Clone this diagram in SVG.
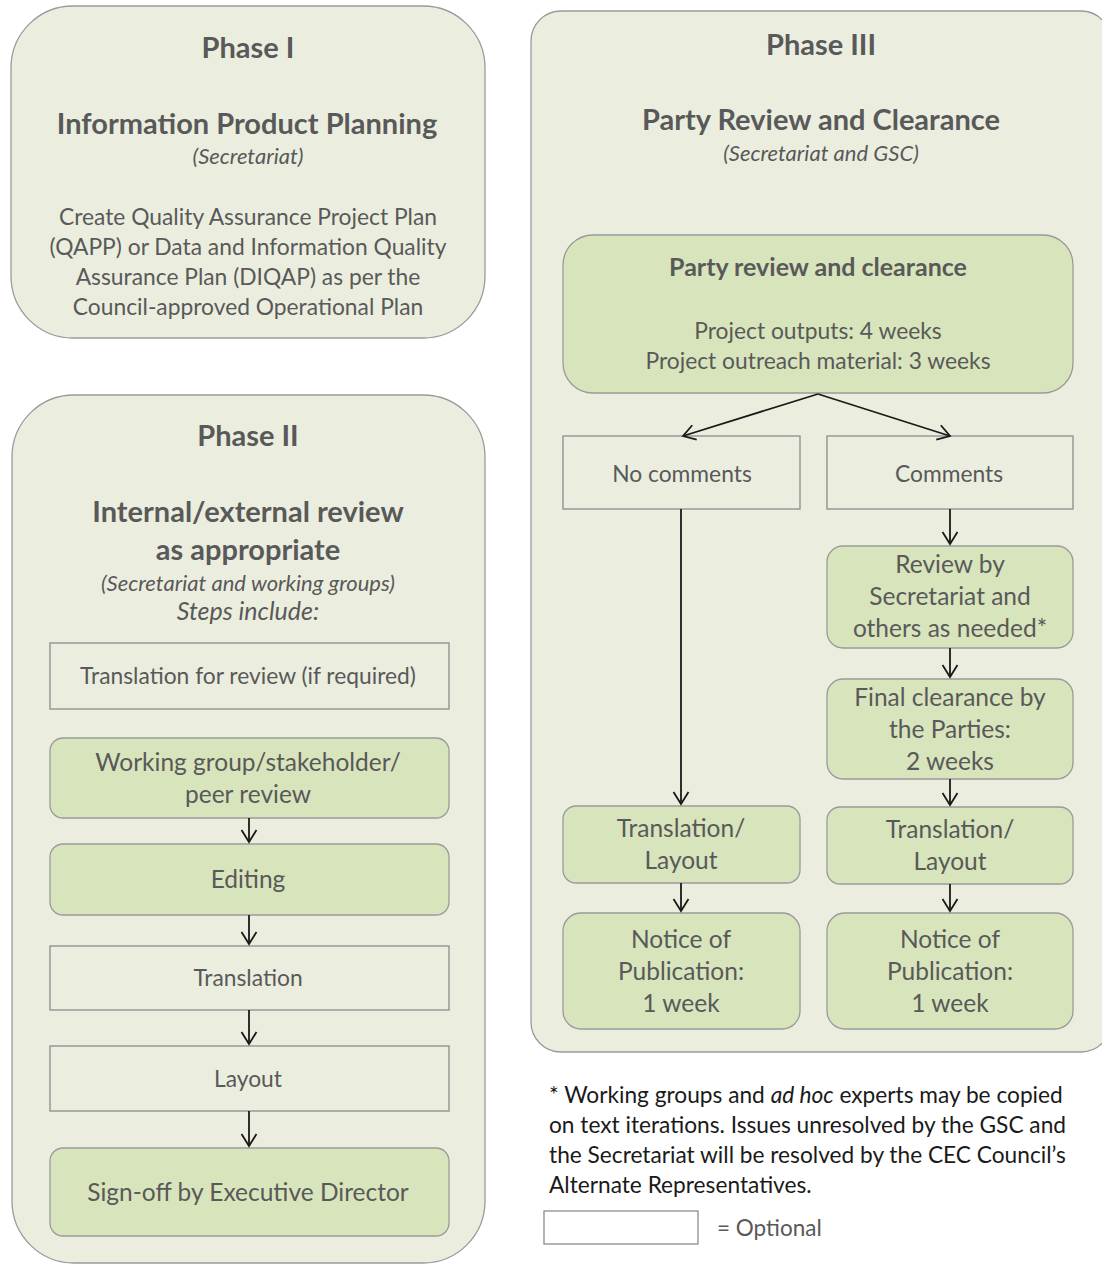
<svg xmlns="http://www.w3.org/2000/svg" width="1102" height="1264" viewBox="0 0 1102 1264">
<defs>
<marker id="ah" markerWidth="16" markerHeight="18" viewBox="0 0 16 18" refX="13" refY="9" orient="auto" markerUnits="userSpaceOnUse">
<path d="M1,1.5 L13,9 L1,16.5" fill="none" stroke="#1a1a1a" stroke-width="1.8"/>
</marker>
<style>
text{font-family:Lato,"Liberation Sans",sans-serif;fill:#595959;text-anchor:middle}
.ph{fill:#ebeedf;stroke:#9a9a9a;stroke-width:1.3}
.g{fill:#d8e4bc;stroke:#9a9a9a;stroke-width:1.3}
.o{fill:none;stroke:#8c8c8c;stroke-width:1.3}
.h1{font-weight:bold;font-size:29px}
.h2{font-weight:bold;font-size:29px}
.it{font-style:italic;font-size:22px}
.b{font-size:22.8px}
.n{font-size:24.5px}
.c line{stroke:#1a1a1a;stroke-width:1.8;marker-end:url(#ah)}
.f{text-anchor:start;fill:#1a1a1a;font-size:22.7px}
</style>
</defs>
<g id="phase1">
<rect class="ph" x="11" y="6" width="474" height="332" rx="62"/>
<text class="h1" x="248" y="58">Phase I</text>
<text class="h2" x="247" y="134">Information Product Planning</text>
<text class="it" x="248" y="164">(Secretariat)</text>
<text class="b" x="248" y="225">Create Quality Assurance Project Plan</text>
<text class="b" x="248" y="255">(QAPP) or Data and Information Quality</text>
<text class="b" x="248" y="285">Assurance Plan (DIQAP) as per the</text>
<text class="b" x="248" y="315">Council-approved Operational Plan</text>
</g>
<g id="phase2">
<rect class="ph" x="12" y="395" width="473" height="868" rx="62"/>
<text class="h1" x="248" y="446">Phase II</text>
<text class="h2" x="248" y="522">Internal/external review</text>
<text class="h2" x="248" y="560">as appropriate</text>
<text class="it" x="248" y="591">(Secretariat and working groups)</text>
<text class="it" x="248" y="620" style="font-size:25px">Steps include:</text>
</g>
<g id="p2-translation-review">
<rect class="o" x="50" y="643" width="399" height="66"/>
<text class="b" x="248" y="684">Translation for review  (if required)</text>
</g>
<g id="p2-working-group">
<rect class="g" x="50" y="738" width="399" height="80" rx="13"/>
<text class="n" x="248" y="771">Working group/stakeholder/</text>
<text class="n" x="248" y="803">peer review</text>
</g>
<g id="p2-editing">
<rect class="g" x="50" y="844" width="399" height="71" rx="13"/>
<text class="n" x="248" y="888">Editing</text>
</g>
<g id="p2-translation">
<rect class="o" x="50" y="946" width="399" height="64"/>
<text class="b" x="248" y="986">Translation</text>
</g>
<g id="p2-layout">
<rect class="o" x="50" y="1046" width="399" height="65"/>
<text class="b" x="248" y="1087">Layout</text>
</g>
<g id="p2-signoff">
<rect class="g" x="50" y="1148" width="399" height="88" rx="13"/>
<text class="n" x="248" y="1201">Sign-off by Executive Director</text>
</g>
<g id="phase3">
<rect class="ph" x="531" y="11" width="580" height="1041" rx="30"/>
<text class="h1" x="821" y="55">Phase III</text>
<text class="h2" x="821" y="130">Party Review and Clearance</text>
<text class="it" x="821" y="161">(Secretariat and GSC)</text>
</g>
<g id="p3-party-review">
<rect class="g" x="563" y="235" width="510" height="158" rx="30"/>
<text x="818" y="276" style="font-weight:bold;font-size:25px">Party review and clearance</text>
<text class="b" x="818" y="339">Project outputs: 4 weeks</text>
<text class="b" x="818" y="369">Project outreach material: 3 weeks</text>
</g>
<g id="p3-no-comments">
<rect class="o" x="563" y="436" width="237" height="73"/>
<text class="b" x="682" y="482">No comments</text>
</g>
<g id="p3-comments">
<rect class="o" x="827" y="436" width="246" height="73"/>
<text class="b" x="949" y="482">Comments</text>
</g>
<g id="p3-review-by">
<rect class="g" x="827" y="546" width="246" height="102" rx="16"/>
<text class="n" x="950" y="573">Review by</text>
<text class="n" x="950" y="605">Secretariat and</text>
<text class="n" x="950" y="637">others as needed*</text>
</g>
<g id="p3-final-clearance">
<rect class="g" x="827" y="679" width="246" height="100" rx="16"/>
<text class="n" x="950" y="706">Final clearance by</text>
<text class="n" x="950" y="738">the Parties:</text>
<text class="n" x="950" y="770">2 weeks</text>
</g>
<g id="p3-translation-left">
<rect class="g" x="563" y="806" width="237" height="77" rx="13"/>
<text class="n" x="681" y="837">Translation/</text>
<text class="n" x="681" y="869">Layout</text>
</g>
<g id="p3-translation-right">
<rect class="g" x="827" y="807" width="246" height="77" rx="13"/>
<text class="n" x="950" y="838">Translation/</text>
<text class="n" x="950" y="870">Layout</text>
</g>
<g id="p3-notice-left">
<rect class="g" x="563" y="913" width="237" height="116" rx="18"/>
<text class="n" x="681" y="948">Notice of</text>
<text class="n" x="681" y="980">Publication:</text>
<text class="n" x="681" y="1012">1 week</text>
</g>
<g id="p3-notice-right">
<rect class="g" x="827" y="913" width="246" height="116" rx="18"/>
<text class="n" x="950" y="948">Notice of</text>
<text class="n" x="950" y="980">Publication:</text>
<text class="n" x="950" y="1012">1 week</text>
</g>
<g id="footnote">
<text class="f" x="549" y="1103">* Working groups and <tspan font-style="italic">ad hoc</tspan> experts may be copied</text>
<text class="f" x="549" y="1133">on text iterations. Issues unresolved by the GSC and</text>
<text class="f" x="549" y="1163">the Secretariat will be resolved by the CEC Council’s</text>
<text class="f" x="549" y="1193">Alternate Representatives.</text>
</g>
<g id="legend">
<rect x="544" y="1211" width="154" height="33" fill="#ffffff" stroke="#8c8c8c" stroke-width="1.3"/>
<text x="717" y="1236" style="text-anchor:start;font-size:22.5px">= Optional</text>
</g>
<g id="connectors" class="c">
<line x1="249" y1="818" x2="249" y2="842"/>
<line x1="249" y1="915" x2="249" y2="944"/>
<line x1="249" y1="1010" x2="249" y2="1044"/>
<line x1="249" y1="1111" x2="249" y2="1146"/>
<line x1="818" y1="394" x2="683" y2="436"/>
<line x1="818" y1="394" x2="950" y2="436"/>
<line x1="681" y1="509" x2="681" y2="804"/>
<line x1="950" y1="509" x2="950" y2="544"/>
<line x1="950" y1="648" x2="950" y2="677"/>
<line x1="950" y1="779" x2="950" y2="805"/>
<line x1="681" y1="883" x2="681" y2="911"/>
<line x1="950" y1="884" x2="950" y2="911"/>
</g>
</svg>
